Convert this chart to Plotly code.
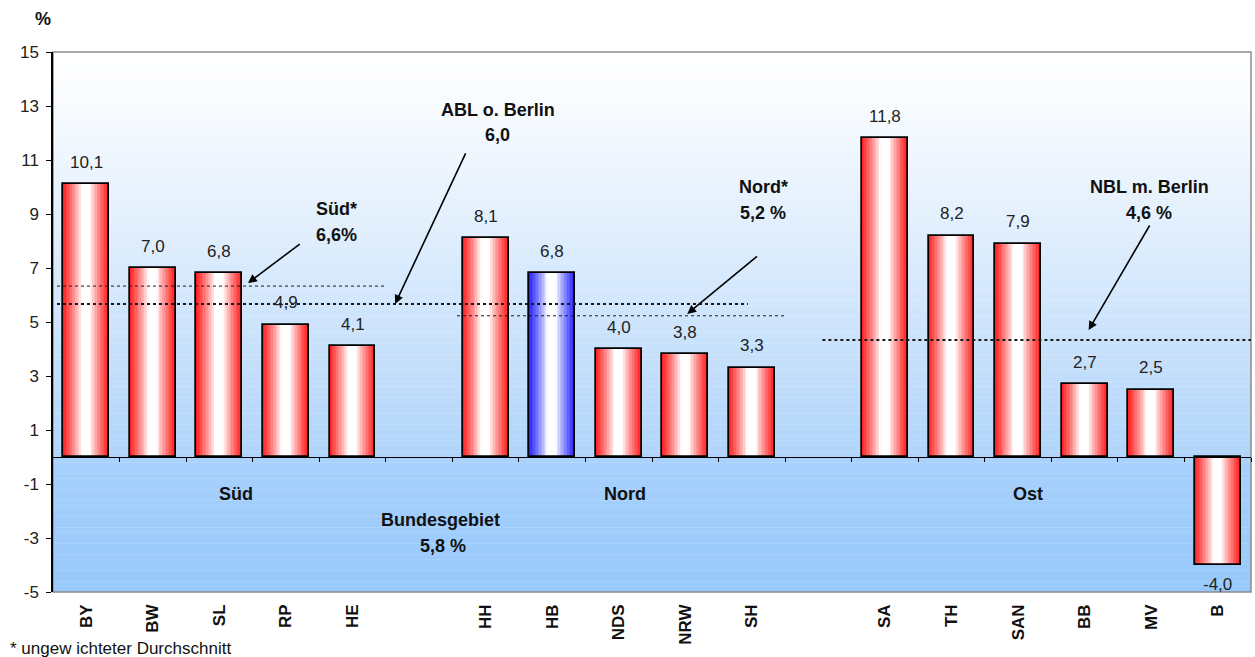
import plotly.graph_objects as go

# ---------------- data ----------------
states = ["BY", "BW", "SL", "RP", "HE", "HH", "HB", "NDS", "NRW", "SH",
          "SA", "TH", "SAN", "BB", "MV", "B"]
state_group = ["Süd"] * 5 + ["Nord"] * 5 + ["Ost"] * 6
values = [10.1, 7.0, 6.8, 4.9, 4.1, 8.1, 6.8, 4.0, 3.8, 3.3,
          11.8, 8.2, 7.9, 2.7, 2.5, -4.0]
highlight = ["HB"]
group_names = ["Süd", "Nord", "Ost"]

# average lines (as drawn): label, y value
avg_names = ["Süd*", "ABL o. Berlin", "Nord*", "NBL m. Berlin"]
avg_values = [6.33, 5.67, 5.23, 4.33]
avg_texts = [["Süd*", "6,6%"], ["ABL o. Berlin", "6,0"], ["Nord*", "5,2 %"],
             ["NBL m. Berlin", "4,6 %"]]
bund_text = ["Bundesgebiet", "5,8 %"]
footnote = "* ungew ichteter Durchschnitt"
y_ticks = [-5, -3, -1, 1, 3, 5, 7, 9, 11, 13, 15]

FONT = "Liberation Sans, Arial, sans-serif"

# positions: one empty slot between groups
pos = []
p = 0
prev = state_group[0]
for g in state_group:
    if g != prev:
        p += 1
        prev = g
    pos.append(p)
    p += 1
n_slots = p
xmin, xmax = -0.5, n_slots - 0.5

fig = go.Figure()

# ---------- gradient bars (strips) ----------
BW = 0.69
N = 31
red = (255, 25, 25)
blue = (30, 30, 255)


def mix(base, f):
    return "rgb(%d,%d,%d)" % tuple(round(255 + (c - 255) * f) for c in base)


for i in range(N):
    c = (i + 0.5) / N
    t = abs(c - 0.5) * 2
    f = max(0.0, (t - 0.18) / 0.82) ** 0.85
    cols = [mix(blue if s in highlight else red, f) for s in states]
    fig.add_trace(go.Bar(
        x=pos, y=values, width=BW / N * 1.02, offset=-BW / 2 + i * BW / N,
        marker=dict(color=cols, line=dict(width=0)),
        hoverinfo="skip", showlegend=False))

# outline
fig.add_trace(go.Bar(
    x=pos, y=values, width=BW,
    marker=dict(color="rgba(0,0,0,0)", line=dict(color="#000000", width=1.7)),
    showlegend=False, hovertemplate="%{customdata}: %{y}<extra></extra>",
    customdata=states))

# invisible trace for the zero-line tick axis
fig.add_trace(go.Scatter(x=[0], y=[0], xaxis="x2", mode="markers",
                         marker=dict(opacity=0), hoverinfo="skip",
                         showlegend=False))

annotations = []
# value labels
for x, v in zip(pos, values):
    annotations.append(dict(
        x=x, y=v, xref="x", yref="y", text=f"{v:.1f}".replace(".", ","),
        showarrow=False, yshift=22 if v >= 0 else -19,
        font=dict(family=FONT, size=17, color="#222222")))

# ---------- background gradient ----------
shapes = []
NS = 75
for k in range(NS):
    y0 = 15 * k / NS
    y1 = 15 * (k + 1) / NS
    f = (1 - (y0 + y1) / 2 / 15) ** 1.15
    col = tuple(round(255 + (c - 255) * f) for c in (176, 212, 250))
    shapes.append(dict(type="rect", xref="paper", yref="y", x0=0, x1=1,
                       y0=y0, y1=y1 + 0.01, layer="below",
                       line=dict(width=0), fillcolor="rgb(%d,%d,%d)" % col))
NB = 25
for k in range(NB):
    y0 = -5 * k / NB
    y1 = -5 * (k + 1) / NB
    f = (k + 0.5) / NB
    a, b = (168, 209, 252), (151, 200, 251)
    col = tuple(round(a[j] + (b[j] - a[j]) * f) for j in range(3))
    shapes.append(dict(type="rect", xref="paper", yref="y", x0=0, x1=1,
                       y0=y1 - 0.01, y1=y0, layer="below",
                       line=dict(width=0), fillcolor="rgb(%d,%d,%d)" % col))
# plot border (grey)
shapes.append(dict(type="rect", xref="paper", yref="paper", x0=0, x1=1,
                   y0=0, y1=1, layer="below",
                   line=dict(color="#8c8c8c", width=1.5)))

# ---------- average lines ----------
first_pos = {g: min(p for p, s in zip(pos, state_group) if s == g) for g in group_names}
last_pos = {g: max(p for p, s in zip(pos, state_group) if s == g) for g in group_names}
avg_x = [
    (xmin + 0.06, last_pos["Süd"] + 0.5),
    (xmin + 0.06, last_pos["Nord"] - 0.06),
    (first_pos["Nord"] - 0.43, last_pos["Nord"] + 0.5),
    (first_pos["Ost"] - 0.94, xmax),
]
avg_w = [1, 2, 1, 2]
for (x0, x1), yv, w in zip(avg_x, avg_values, avg_w):
    shapes.append(dict(type="line", xref="x", yref="y", x0=x0, x1=x1,
                       y0=yv, y1=yv, layer="above",
                       line=dict(color="#1a1a1a", width=w, dash="dot")))

# ---------- text labels and arrows ----------
bold = dict(family=FONT, size=18, color="#111111")
label_xy = [(3.76, 9.19, 8.22), (6.18, 12.85, 11.93), (10.17, 10.0, 9.04),
            (15.97, 10.0, 9.04)]
for (lx, ly1, ly2), (t1, t2) in zip(label_xy, avg_texts):
    annotations.append(dict(x=lx, y=ly1, xref="x", yref="y", text=f"<b>{t1}</b>",
                            showarrow=False, font=bold))
    annotations.append(dict(x=lx, y=ly2, xref="x", yref="y", text=f"<b>{t2}</b>",
                            showarrow=False, font=bold))

arrows = [((3.23, 7.93), (2.43, 6.44)), ((5.71, 11.30), (4.64, 5.67)),
          ((10.10, 7.48), (9.03, 5.30)), ((15.99, 8.63), (15.06, 4.70))]
for (tx, ty), (hx, hy) in arrows:
    annotations.append(dict(x=hx, y=hy, ax=tx, ay=ty, xref="x", yref="y",
                            axref="x", ayref="y", text="", showarrow=True,
                            arrowhead=2, arrowsize=1.1, arrowwidth=1.6,
                            arrowcolor="#000000"))

annotations.append(dict(x=5.32, y=-2.33, xref="x", yref="y",
                        text=f"<b>{bund_text[0]}</b>", showarrow=False, font=bold))
annotations.append(dict(x=5.36, y=-3.30, xref="x", yref="y",
                        text=f"<b>{bund_text[1]}</b>", showarrow=False, font=bold))

group_label_x = [2.25, 8.09, 14.15]
for gx, g in zip(group_label_x, group_names):
    annotations.append(dict(x=gx, y=-1.37, xref="x", yref="y", text=f"<b>{g}</b>",
                            showarrow=False, font=bold))

annotations.append(dict(x=-0.0083, y=1.061, xref="paper", yref="paper",
                        xanchor="center", yanchor="middle",
                        text="<b>%</b>", showarrow=False, font=bold))
annotations.append(dict(x=-0.0376, y=-0.104, xref="paper", yref="paper",
                        text=footnote, showarrow=False, xanchor="left",
                        yanchor="middle",
                        font=dict(family=FONT, size=17, color="#111111")))

fig.update_layout(
    width=1255, height=657,
    margin=dict(l=53, r=4, t=52, b=65),
    paper_bgcolor="white", plot_bgcolor="white",
    barmode="overlay", bargap=0,
    shapes=shapes, annotations=annotations,
    font=dict(family=FONT),
    xaxis=dict(range=[xmin, xmax], tickmode="array", tickvals=pos,
               ticktext=[f"<b>{s}</b>" for s in states], tickangle=-90,
               ticks="", showgrid=False, zeroline=False, showline=False,
               tickfont=dict(family=FONT, size=17, color="#111111"),
               ticklabelstandoff=8, fixedrange=True),
    xaxis2=dict(range=[xmin, xmax], overlaying="x", anchor="free",
                position=0.25, side="bottom", tickmode="array",
                tickvals=[k + 0.5 for k in range(n_slots)],
                ticks="outside", ticklen=4, tickwidth=1, tickcolor="#000000",
                showticklabels=False, showline=True, linecolor="#000000",
                linewidth=1, showgrid=False, zeroline=False),
    yaxis=dict(range=[-5, 15], tickmode="array", tickvals=y_ticks,
               ticktext=[str(v) for v in y_ticks],
               ticks="outside", ticklen=5, tickcolor="#000000",
               showline=True, linecolor="#000000", linewidth=1.5,
               showgrid=False, zeroline=False,
               tickfont=dict(family=FONT, size=17, color="#222222"),
               ticklabelstandoff=4, fixedrange=True),
)

fig.write_html("out.html")
